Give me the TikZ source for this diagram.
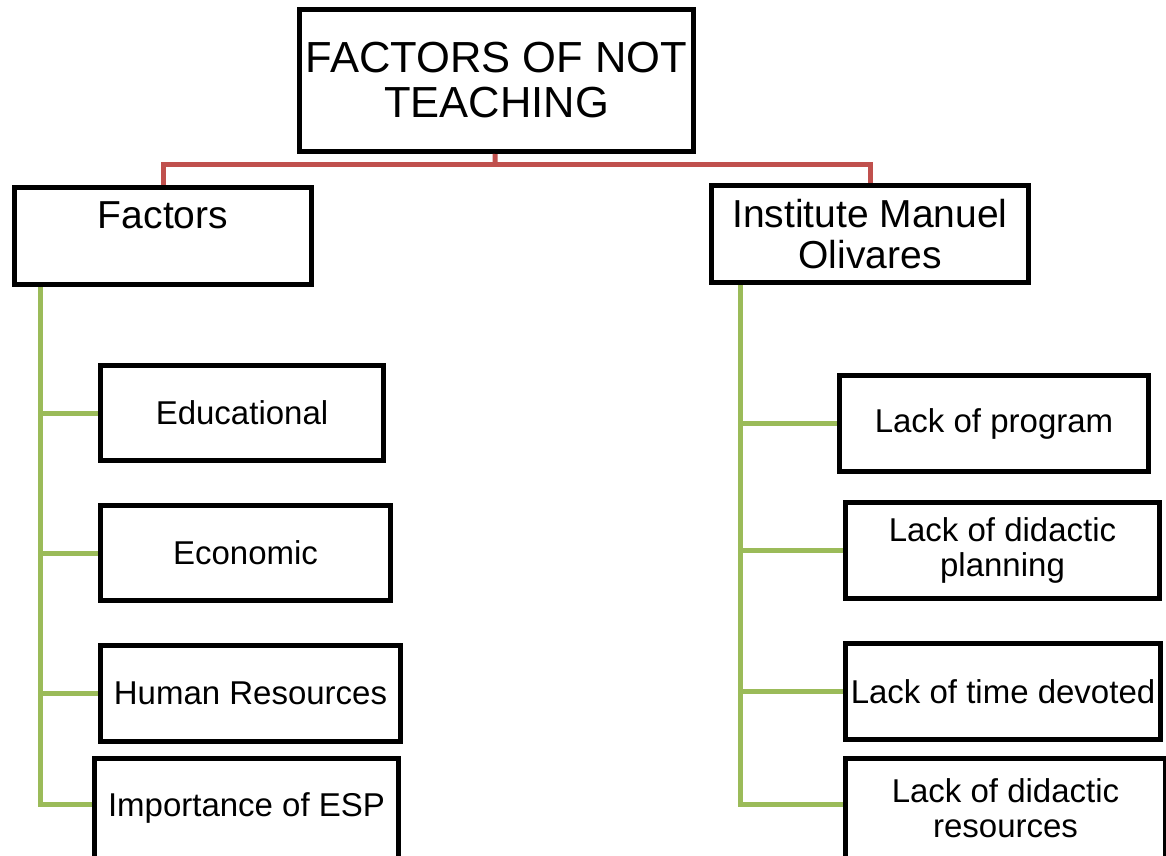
\documentclass[tikz,border=0pt]{standalone}
\usepackage{fontspec}
\setmainfont{Liberation Sans}
\usepackage{tikz}
\usetikzlibrary{positioning}
\definecolor{linkred}{HTML}{C0504D}
\definecolor{linkgreen}{HTML}{9BBB59}
\tikzset{
	cbox/.style={draw, rectangle, line width=5pt, align=center, inner sep=0pt, font=\fontsize{33}{35}\selectfont},
	headbox/.style={cbox, font=\fontsize{39}{41}\selectfont},
	topbox/.style={cbox, font=\fontsize{43.5}{45}\selectfont},
	redline/.style={draw=linkred, line width=5pt},
	greenline/.style={draw=linkgreen, line width=5pt}
}

\begin{document}
\begin{tikzpicture}[x=1pt, y=-1pt]
		\clip (0,0) rectangle (1166,855);
		\fill[white] (0,0) rectangle (1166,855);
		
		\node [topbox, minimum width=394, minimum height=142] (top) at (496.5,80.5) {FACTORS OF NOT\\TEACHING};
		\node [headbox, minimum width=297, minimum height=97] (factors) at (163,236) {Factors\\ \mbox{}};
		\node [headbox, minimum width=317, minimum height=97] (inst) at (870,234) {Institute Manuel\\Olivares};
		
		% left column
		\node [cbox, minimum width=283, minimum height=95] (edu) at (242,413) {Educational};
		\node [cbox, minimum width=290, minimum height=95] (econ) at (245.5,553) {Economic};
		\node [cbox, minimum width=300, minimum height=96] (hr) at (250.5,693.5) {Human Resources};
		\node [cbox, minimum width=304, minimum height=100] (esp) at (246.5,808) {Importance of ESP};
		
		% right column
		\node [cbox, minimum width=309, minimum height=96] (prog) at (994,423.5) {Lack of program};
		\node [cbox, minimum width=314, minimum height=96] (plan) at (1002.5,550.5) {Lack of didactic\\planning};
		\node [cbox, minimum width=315, minimum height=96] (time) at (1003,691.5) {Lack of time devoted};
		\node [cbox, minimum width=320, minimum height=100] (res) at (1005.5,808) {Lack of didactic\\resources};
		
		\coordinate (split) at (495,164);
		\coordinate (ltrunk) at ([xshift=28.5pt]factors.south west);
		\coordinate (rtrunk) at ([xshift=31.5pt]inst.south west);
		
		\path [redline] (top) -- (split);
		\path [redline] (factors.north) |- (split) -| (inst.north);
		
		\path [greenline] (ltrunk) |- ([yshift=4pt]esp.west);
		\foreach \n in {edu,econ,hr}
			\path [greenline] (\n.west) -- (\n.west -| ltrunk);
		\path [greenline] (rtrunk) |- ([yshift=4pt]res.west);
		\foreach \n in {prog,plan,time}
			\path [greenline] (\n.west) -- (\n.west -| rtrunk);
	\end{tikzpicture}
\end{document}
